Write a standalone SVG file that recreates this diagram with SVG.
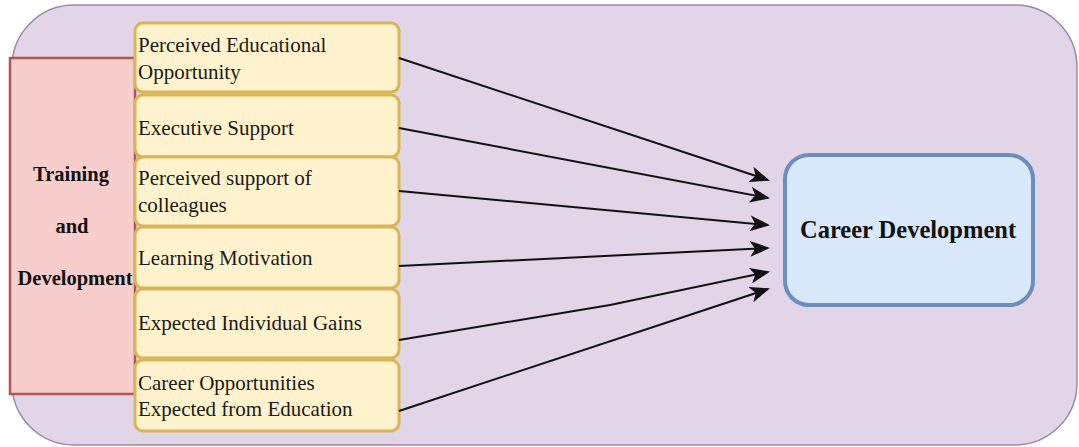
<svg xmlns="http://www.w3.org/2000/svg" width="1079" height="447" viewBox="0 0 1079 447">
<defs>
<style>
.item{fill:#fff2cc;stroke:#d6b656;stroke-width:3}
.t{font-family:"Liberation Serif",serif;font-size:21px;fill:#1a1a1a}
.b{font-family:"Liberation Serif",serif;font-weight:bold;fill:#111}
.c{fill:none;stroke:#111;stroke-width:2}
</style>
<marker id="ah" viewBox="0 0 20 16" refX="18" refY="8" markerWidth="20" markerHeight="16" markerUnits="userSpaceOnUse" orient="auto">
<path d="M0,0 L20,8 L0,16 L5,8 Z" fill="#111"/>
</marker>
</defs>
<g id="container">
<rect x="12" y="5" width="1065" height="440" rx="62" ry="62" fill="#e1d5e7" stroke="#9a8aa8" stroke-width="1.5"/>
</g>
<g id="training">
<rect x="10" y="58" width="125" height="336" fill="#f8cecc" stroke="#b85450" stroke-width="2.5"/>
<text class="b" font-size="20.5" text-anchor="middle"><tspan x="71" y="181">Training</tspan><tspan x="72" y="233">and</tspan><tspan x="75" y="285">Development</tspan></text>
</g>
<g id="n1"><rect class="item" x="135" y="23" width="264" height="69" rx="8"/><text class="t"><tspan x="138" y="52">Perceived Educational</tspan><tspan x="138" y="79">Opportunity</tspan></text></g>
<g id="n2"><rect class="item" x="135" y="95" width="264" height="62" rx="8"/><text class="t" x="138" y="135">Executive Support</text></g>
<g id="n3"><rect class="item" x="135" y="157" width="264" height="69" rx="8"/><text class="t"><tspan x="138" y="185">Perceived support of</tspan><tspan x="138" y="212">colleagues</tspan></text></g>
<g id="n4"><rect class="item" x="135" y="227" width="264" height="61" rx="8"/><text class="t" x="138" y="265">Learning Motivation</text></g>
<g id="n5"><rect class="item" x="135" y="289" width="264" height="69" rx="8"/><text class="t" x="138" y="330">Expected Individual Gains</text></g>
<g id="n6"><rect class="item" x="135" y="360" width="264" height="71" rx="8"/><text class="t"><tspan x="138" y="390">Career Opportunities</tspan><tspan x="138" y="416">Expected from Education</tspan></text></g>
<g id="career">
<rect x="785" y="155" width="248" height="150" rx="24" fill="#dae8fc" stroke="#6c8ebf" stroke-width="4"/>
<text class="b" font-size="24.5" x="908" y="238" text-anchor="middle">Career Development</text>
</g>
<g id="connectors">
<path class="c" marker-end="url(#ah)" d="M399,58 L768,180"/>
<path class="c" marker-end="url(#ah)" d="M399,128 L768,198"/>
<path class="c" marker-end="url(#ah)" d="M399,191 L768,225"/>
<path class="c" marker-end="url(#ah)" d="M399,266 L768,248"/>
<path class="c" marker-end="url(#ah)" d="M399,340 L610,305 L768,272"/>
<path class="c" marker-end="url(#ah)" d="M399,411 L768,289"/>
</g>
</svg>
